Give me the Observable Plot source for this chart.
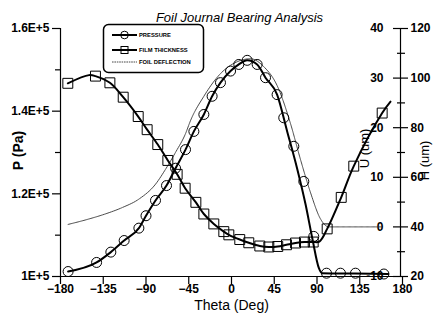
<!DOCTYPE html>
<html>
<head>
<meta charset="utf-8">
<script src="https://cdn.jsdelivr.net/npm/d3@7"></script>
<script src="https://cdn.jsdelivr.net/npm/@observablehq/plot@0.6"></script>
<style>
  html, body { margin: 0; padding: 0; background: white; }
  #chart { width: 433px; height: 323px; position: relative; }
</style>
</head>
<body>
<div id="chart"></div>
<script>
// ---------- data ----------
const title = "Foil Journal Bearing Analysis";
const xTicks = [-180, -135, -90, -45, 0, 45, 90, 135, 180];
const pMajor = [1.0e5, 1.2e5, 1.4e5, 1.6e5];
const pMinor = [1.1e5, 1.3e5, 1.5e5];
const hMajor = [20, 40, 60, 80, 100, 120];
const hMinor = [30, 50, 70, 90, 110];
const uLabels = [-10, 0, 10, 20, 30, 40];
const legendLabels = ["PRESSURE", "FILM THICKNESS", "FOIL DEFLECTION"];

// Pressure (Pa) – markers
const pressureMarkTheta = [-172, -142, -127, -113, -97.5, -90, -80, -68.4, -58.9, -48.4, -39.6, -29.1, -20.4, -11.6, -1, 7.7, 16.5, 27, 35.8, 48, 55, 65.6, 76.1, 86.6, 100, 114.7, 130.5, 160.4];
const pressureMark = [1.012e5, 1.034e5, 1.059e5, 1.087e5, 1.117e5, 1.147e5, 1.184e5, 1.220e5, 1.262e5, 1.307e5, 1.351e5, 1.392e5, 1.436e5, 1.469e5, 1.497e5, 1.513e5, 1.523e5, 1.513e5, 1.481e5, 1.440e5, 1.384e5, 1.315e5, 1.230e5, 1.097e5, 1.008e5, 1.008e5, 1.008e5, 1.006e5];
// Pressure (Pa) – curve
const pressureLineTheta = [-172, -142, -127, -113, -97.5, -90, -80, -68.4, -58.9, -48.4, -39.6, -29.1, -20.4, -11.6, -1, 7.7, 16.5, 27, 35.8, 48, 58.6, 69, 78, 85, 92, 95.5, 130, 165];
const pressureLine = [1.012e5, 1.034e5, 1.059e5, 1.087e5, 1.117e5, 1.147e5, 1.184e5, 1.220e5, 1.262e5, 1.307e5, 1.351e5, 1.392e5, 1.436e5, 1.469e5, 1.497e5, 1.513e5, 1.523e5, 1.513e5, 1.481e5, 1.440e5, 1.351e5, 1.262e5, 1.174e5, 1.093e5, 1.020e5, 1.008e5, 1.007e5, 1.006e5];

// Film thickness H (um) – markers
const filmMarkTheta = [-172.3, -143.2, -128, -114, -98.2, -88.8, -77.6, -67, -57.2, -48.8, -37.5, -29.1, -18.6, -8.1, -2.8, 8.7, 18.2, 29.8, 39.3, 48.7, 57.9, 67.4, 76.8, 86, 100.7, 115.5, 128.7, 158.6];
const filmMark = [97.9, 100.8, 98.1, 92.3, 84.5, 79.2, 73.2, 66.8, 61.2, 55.6, 49.9, 45.2, 41.2, 38.1, 36.8, 34.9, 33.6, 32.3, 31.9, 32.1, 32.8, 33.5, 33.9, 33.9, 39.2, 51.9, 64.5, 85.9];
// Film thickness H (um) – curve
const filmLineTheta = [-172.3, -150, -143.2, -128, -114, -98.2, -88.8, -77.6, -67, -57.2, -48.8, -37.5, -29.1, -18.6, -8.1, -2.8, 8.7, 18.2, 29.8, 39.3, 48.7, 57.9, 67.4, 76.8, 86, 92.5, 100.7, 115.5, 128.7, 158.6, 167.4];
const filmLine = [97.9, 101.2, 100.8, 98.1, 92.3, 84.5, 79.2, 73.2, 66.8, 61.2, 55.6, 49.9, 45.2, 41.2, 38.1, 36.8, 34.9, 33.6, 32.3, 31.9, 32.1, 32.8, 33.5, 33.9, 33.9, 34.1, 39.2, 51.9, 64.5, 85.9, 90.5];

// Foil deflection U (um)
const deflTheta = [-172, -150, -133, -115, -97.5, -80, -69.5, -59, -48.4, -43.2, -29.2, -11.6, 6, 20, 34, 48, 62, 72.6, 83.2, 93.7, 102.4, 120, 158];
const defl = [0.5, 1.6, 2.6, 3.9, 5.6, 8.6, 11.6, 15.0, 18.8, 21.4, 26.3, 30.9, 33.3, 33.9, 32.3, 28.5, 20.9, 13.6, 6.9, 1.6, 0, 0, 0];

// ---------- mapping of the right-hand scales onto the P scale ----------
const hToP = h => 1e5 + (h - 20) * 600;      // H 20..120  <->  P 1E5..1.6E5
const uToH = u => 2 * u + 40;                // U -10..40  <->  H 20..120
const uToP = u => hToP(uToH(u));
const pToH = p => Math.round(20 + (p - 1e5) / 600);
const fmtE = v => { const m = v / 1e5; return (Math.abs(m - 1) < 1e-9 ? "1" : m.toFixed(1)) + "E+5"; };

const pressureMarks = pressureMarkTheta.map((t, i) => ({theta: t, p: pressureMark[i]}));
const pressureCurve = pressureLineTheta.map((t, i) => ({theta: t, p: pressureLine[i]}));
const filmMarks = filmMarkTheta.map((t, i) => ({theta: t, p: hToP(filmMark[i])}));
const filmCurve = filmLineTheta.map((t, i) => ({theta: t, p: hToP(filmLine[i])}));
const deflCurve = deflTheta.map((t, i) => ({theta: t, p: uToP(defl[i])}));

const font = "'Liberation Sans', Arial, Helvetica, sans-serif";
const tickFont = 12;

const chart = Plot.plot({
  width: 433,
  height: 323,
  marginTop: 28,
  marginBottom: 47,
  marginLeft: 60,
  marginRight: 31,
  x: {domain: [-180, 180]},
  y: {domain: [1e5, 1.6e5]},
  style: {fontFamily: font, background: "white", color: "black", overflow: "visible"},
  marks: [
    // axis lines
    Plot.ruleY([1e5], {x1: -180, x2: 180, stroke: "black", strokeWidth: 1.2}),
    Plot.ruleX([-180], {y1: 1e5, y2: 1.6e5, stroke: "black", strokeWidth: 1.2}),
    Plot.ruleX([180], {y1: 1e5, y2: 1.6e5, stroke: "black", strokeWidth: 1.2, dx: -2}),
    // left axis
    Plot.axisY({anchor: "left", ticks: pMajor, tickSize: 8, tickPadding: 3, tickFormat: fmtE, fontSize: tickFont, fontWeight: "bold", label: null, strokeWidth: 1.2}),
    Plot.axisY({anchor: "left", ticks: pMinor, tickSize: 5, tickFormat: () => "", label: null, strokeWidth: 1.2}),
    // bottom axis
    Plot.axisX({anchor: "bottom", ticks: xTicks, tickSize: 8, tickPadding: 0, fontSize: tickFont, fontWeight: "bold", label: null, strokeWidth: 1.2}),
    // right axis (H outside, U inside)
    Plot.axisY({anchor: "right", ticks: hMajor.map(hToP), tickSize: 15, dx: -10, tickPadding: 3, tickFormat: pToH, fontSize: tickFont, fontWeight: "bold", label: null, strokeWidth: 1.2}),
    Plot.axisY({anchor: "right", ticks: hMinor.map(hToP), tickSize: 8, dx: -6, tickFormat: () => "", label: null, strokeWidth: 1.2}),
    Plot.text(uLabels, {y: uToP, text: d => String(d), frameAnchor: "right", textAnchor: "end", dx: -19, fontSize: tickFont, fontWeight: "bold", fill: "black"}),
    // data
    Plot.line(deflCurve, {x: "theta", y: "p", curve: "monotone-x", stroke: "#333", strokeWidth: 0.9, strokeDasharray: "1.6,0.8"}),
    Plot.line(pressureCurve, {x: "theta", y: "p", curve: "monotone-x", stroke: "black", strokeWidth: 2}),
    Plot.line(filmCurve, {x: "theta", y: "p", curve: "catmull-rom", stroke: "black", strokeWidth: 2}),
    Plot.dot(pressureMarks, {x: "theta", y: "p", r: 5, symbol: "circle", stroke: "black", strokeWidth: 1, fill: "none"}),
    Plot.dot(filmMarks, {x: "theta", y: "p", r: 5.6, symbol: "square", stroke: "black", strokeWidth: 1, fill: "none"}),
    // labels
    Plot.text([title], {frameAnchor: "top", dx: 8, dy: -16, fontSize: 13, fontStyle: "italic", fill: "black", textAnchor: "middle"}),
    Plot.text(["P (Pa)"], {frameAnchor: "left", textAnchor: "middle", dx: -42, dy: -2, rotate: -90, fontSize: 14, fontWeight: "bold", fill: "black"}),
    Plot.text(["Theta (Deg)"], {frameAnchor: "bottom", textAnchor: "middle", dx: 0, dy: 33, fontSize: 14, fill: "black"}),
    Plot.text(["U (um)"], {frameAnchor: "right", textAnchor: "middle", dx: -38, dy: -4, rotate: -90, fontSize: 13, fill: "black"}),
    Plot.text(["H (um)"], {frameAnchor: "right", textAnchor: "middle", dx: 22, dy: 8, rotate: -90, fontSize: 13, fill: "black"})
  ]
});

document.getElementById("chart").appendChild(chart);

// ---------- legend ----------
const svg = d3.select(chart);
const lg = svg.append("g").attr("font-family", font).attr("text-anchor", "start");
lg.append("rect").attr("x", 103.5).attr("y", 24.5).attr("width", 100).attr("height", 48)
  .attr("rx", 5).attr("fill", "white").attr("stroke", "black").attr("stroke-width", 1.5);
const rowsY = [35, 50, 62];
legendLabels.forEach((lab, i) => {
  const y = rowsY[i];
  const ln = lg.append("line").attr("x1", 112).attr("x2", 137).attr("y1", y).attr("y2", y);
  if (i < 2) ln.attr("stroke", "black").attr("stroke-width", 2);
  else ln.attr("stroke", "#333").attr("stroke-width", 0.9).attr("stroke-dasharray", "1.6,0.8");
  if (i === 0) lg.append("circle").attr("cx", 124.5).attr("cy", y).attr("r", 3.8).attr("fill", "none").attr("stroke", "black");
  if (i === 1) lg.append("rect").attr("x", 121).attr("y", y - 3.5).attr("width", 7).attr("height", 7).attr("fill", "none").attr("stroke", "black");
  lg.append("text").attr("x", 139).attr("y", y).attr("dy", "0.35em").attr("font-size", 5.8)
    .attr("text-anchor", "start").attr("font-weight", "bold").attr("fill", "black").text(lab);
});
</script>
</body>
</html>
